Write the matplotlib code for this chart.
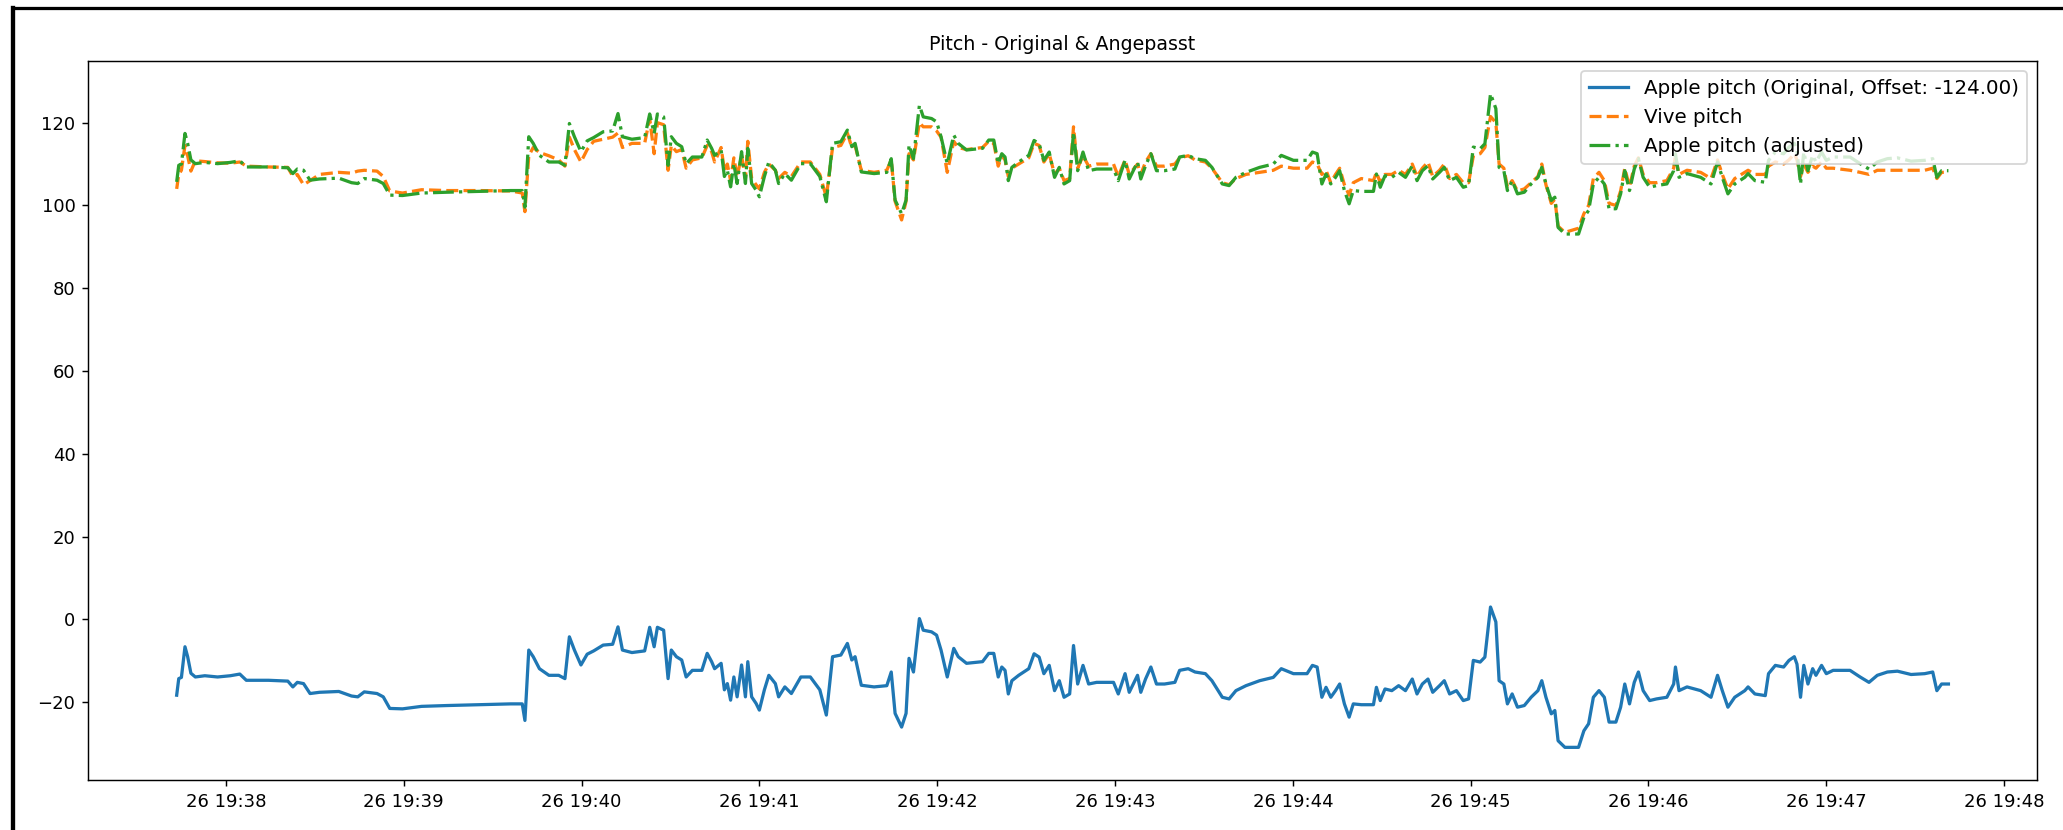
import numpy as np
import pandas as pd
import matplotlib
matplotlib.use("Agg")
import matplotlib.pyplot as plt
import matplotlib.dates as mdates
from matplotlib.lines import Line2D

# Zeitstempel in Sekunden nach 19:37:00
apple_t = [
    43.4, 44.1, 45.0, 46.2, 47.1, 48.2, 49.7, 52.9, 57.2, 61.5, 64.7, 66.9, 74.4, 80.9, 82.6, 84.1,
    86.2, 88.4, 91.6, 98.1, 102.4, 104.5, 106.7, 111.0, 113.1, 115.3, 119.6, 126.0, 134.6, 145.4,
    156.1, 160.0, 160.9, 162.2, 163.7, 165.8, 169.0, 172.3, 174.4, 175.9, 177.6, 179.8, 181.9,
    184.1, 187.3, 190.5, 192.3, 193.8, 197.0, 201.3, 203.0, 204.5, 205.6, 207.7, 209.2, 210.3,
    212.0, 213.8, 215.3, 217.4, 220.6, 222.4, 223.9, 224.9, 227.1, 228.2, 229.2, 230.3, 231.4,
    232.5, 234.0, 235.3, 236.1, 237.4, 238.9, 240.0, 241.7, 243.2, 245.4, 246.5, 248.6, 250.8,
    254.0, 257.2, 260.4, 262.6, 264.7, 267.5, 269.7, 271.2, 272.3, 274.4, 278.7, 283.0, 284.5,
    285.8, 288.0, 289.5, 290.5, 292.0, 294.0, 295.3, 298.1, 299.8, 301.3, 303.4, 305.6, 307.1,
    309.9, 315.3, 317.4, 319.1, 320.6, 321.8, 322.9, 324.0, 325.2, 327.5, 330.9, 332.7, 334.4,
    336.0, 337.8, 339.6, 341.2, 342.8, 344.7, 346.0, 347.4, 349.2, 351.1, 353.8, 359.5, 361.1,
    363.4, 364.8, 367.6, 368.7, 370.3, 372.1, 374.0, 376.7, 380.2, 381.8, 384.7, 387.0, 390.5,
    392.7, 396.2, 398.5, 400.8, 404.2, 408.8, 413.4, 416.1, 420.2, 424.8, 426.6, 428.2, 429.8,
    431.2, 432.8, 434.4, 435.8, 437.4, 439.0, 440.4, 443.1, 447.2, 448.2, 449.5, 451.1, 453.4,
    455.7, 458.0, 460.3, 461.9, 463.7, 465.6, 467.2, 469.5, 471.1, 472.9, 475.2, 477.5, 479.3,
    480.9, 483.2, 484.8, 486.7, 488.5, 489.6, 491.2, 492.4, 494.0, 495.8, 498.1, 500.4, 502.7,
    504.0, 505.4, 507.2, 508.4, 509.5, 511.8, 516.4, 518.2, 519.8, 521.4, 523.3, 525.1, 526.7,
    529.0, 530.6, 532.0, 533.6, 535.2, 536.6, 538.2, 540.4, 542.7, 546.2, 548.5, 549.1, 550.3,
    553.0, 557.6, 561.1, 563.3, 564.9, 566.8, 569.1, 572.5, 573.6, 575.9, 579.4, 580.5, 582.8,
    585.6, 587.4, 589.2, 590.1, 591.3, 592.4, 593.8, 595.4, 596.5, 598.4, 600.0, 602.3, 608.0,
    611.4, 614.4, 617.2, 620.6, 624.0, 628.6, 633.2, 635.9, 637.3, 638.9, 641.2,
]

apple_pitch = [
    -18.3, -14.3, -14.0, -6.6, -9.0, -13.0, -13.9, -13.6, -13.9, -13.6, -13.2, -14.7, -14.7, -14.9, -16.3, -15.2,
    -15.5, -17.9, -17.6, -17.4, -18.5, -18.7, -17.5, -17.9, -18.7, -21.5, -21.6, -21.0, -20.8, -20.6,
    -20.4, -20.4, -24.4, -7.4, -9.0, -11.9, -13.5, -13.5, -14.3, -4.2, -7.4, -11.0, -8.4,
    -7.6, -6.2, -6.0, -1.8, -7.4, -8.0, -7.6, -1.9, -6.6, -1.9, -2.6, -14.3, -7.4,
    -9.0, -9.8, -13.9, -12.3, -12.3, -8.2, -10.2, -11.9, -10.6, -17.0, -15.5, -19.5, -13.9,
    -18.7, -11.0, -18.7, -10.2, -18.7, -20.3, -21.9, -17.0, -13.5, -15.5, -18.7, -16.3, -17.9,
    -13.9, -13.9, -17.0, -23.1, -9.0, -8.6, -5.8, -9.8, -9.0, -15.9, -16.3, -16.0, -12.7,
    -22.7, -26.0, -22.7, -9.4, -12.7, 0.2, -2.6, -3.0, -3.8, -7.4, -13.9, -7.0, -9.0,
    -10.6, -10.2, -8.2, -8.2, -13.9, -11.5, -12.3, -18.0, -14.8, -13.5, -11.9, -8.3, -9.1,
    -13.1, -11.1, -17.2, -14.8, -18.8, -18.0, -6.3, -15.6, -11.1, -15.6, -15.2, -15.2, -18.0,
    -13.1, -17.6, -13.5, -17.6, -14.4, -11.5, -15.6, -15.6, -15.2, -12.3, -11.9, -12.7, -13.1,
    -14.8, -18.8, -19.2, -17.2, -16.0, -14.8, -14.0, -11.9, -13.1, -13.1, -11.1, -11.5, -18.8,
    -16.4, -18.8, -17.2, -15.6, -20.4, -23.6, -20.4, -20.6, -20.6, -16.4, -19.6, -16.8, -17.2,
    -16.0, -17.2, -14.4, -18.0, -15.6, -14.4, -17.6, -16.0, -14.8, -18.0, -17.2, -19.6, -19.2,
    -9.9, -10.3, -9.1, 3.0, -0.6, -14.8, -15.6, -20.4, -18.0, -21.2, -20.8, -18.8, -17.2,
    -14.8, -18.8, -22.8, -22.0, -29.3, -30.9, -30.9, -26.9, -25.2, -18.8, -17.2, -18.8, -24.8,
    -24.8, -21.2, -15.6, -20.4, -15.2, -12.7, -17.2, -19.6, -19.2, -18.8, -15.6, -11.5, -17.2,
    -16.3, -17.2, -18.8, -13.5, -17.2, -21.2, -18.8, -17.2, -16.3, -18.0, -18.4, -13.1, -11.1,
    -11.5, -9.9, -9.0, -10.8, -18.8, -11.1, -15.6, -11.9, -13.5, -11.1, -13.1, -12.3, -12.3,
    -13.9, -15.2, -13.5, -12.7, -12.5, -13.3, -13.1, -12.7, -17.2, -15.6, -15.6,
]

vive_pitch = [
    104.0, 107.5, 108.5, 114.5, 112.0, 108.3, 110.8, 110.6, 110.3, 110.2, 110.5, 109.5, 109.3, 109.2, 107.0, 107.5,
    105.0, 106.0, 107.5, 108.0, 107.8, 108.3, 108.5, 108.3, 107.0, 103.5, 103.0, 103.8, 103.6, 103.6,
    103.5, 103.0, 98.5, 112.0, 114.0, 112.8, 112.0, 111.0, 109.5, 116.5, 113.5, 110.5, 113.5,
    115.5, 116.0, 116.5, 117.5, 114.0, 115.0, 115.0, 121.0, 112.5, 120.0, 119.5, 108.5, 114.5,
    113.0, 113.5, 109.0, 111.0, 111.5, 114.5, 113.0, 110.5, 114.0, 108.5, 110.0, 106.0, 111.5,
    107.0, 112.0, 106.5, 115.5, 106.5, 105.0, 104.0, 108.0, 110.0, 108.5, 106.5, 108.0, 107.0,
    110.5, 110.5, 107.5, 102.0, 114.0, 114.5, 117.5, 114.0, 114.5, 108.5, 108.0, 108.5, 111.0,
    101.0, 96.5, 101.0, 112.5, 111.0, 120.0, 119.0, 119.0, 118.0, 116.5, 108.0, 115.5, 114.0,
    113.5, 114.0, 115.5, 115.0, 109.5, 112.0, 111.0, 107.0, 109.0, 110.0, 111.5, 115.0, 114.5,
    110.5, 112.5, 107.5, 109.0, 106.0, 106.5, 119.0, 109.0, 112.0, 109.5, 110.0, 110.0, 107.0,
    111.0, 107.5, 110.0, 107.5, 110.5, 112.5, 109.5, 109.5, 110.0, 111.5, 112.0, 111.0, 110.5,
    109.0, 105.5, 105.0, 106.5, 107.5, 108.0, 108.5, 109.5, 109.0, 109.0, 110.5, 110.0, 107.5,
    108.5, 105.5, 107.5, 109.0, 105.0, 102.5, 105.5, 106.5, 106.0, 108.0, 105.5, 107.5, 107.5,
    108.5, 107.5, 110.0, 107.0, 109.0, 110.5, 107.0, 108.5, 110.0, 106.5, 107.5, 105.5, 105.5,
    112.0, 112.5, 114.0, 121.5, 120.0, 110.0, 109.0, 104.5, 106.0, 103.5, 104.0, 105.5, 107.0,
    110.0, 105.0, 100.5, 101.5, 95.0, 93.5, 94.5, 98.0, 100.0, 106.5, 108.0, 106.0, 100.5,
    100.0, 103.5, 109.0, 104.5, 109.5, 111.5, 107.5, 105.5, 105.5, 106.0, 109.0, 112.0, 107.5,
    108.5, 108.0, 106.5, 111.0, 107.5, 104.0, 106.5, 108.0, 108.5, 107.5, 107.5, 109.5, 110.5,
    110.0, 111.0, 112.5, 111.0, 107.0, 110.0, 108.0, 109.5, 109.0, 110.5, 109.0, 109.0, 108.5,
    108.0, 107.5, 108.5, 108.5, 108.5, 108.5, 108.5, 109.0, 106.5, 108.0, 108.0,
]

offset = -124.0
start = pd.Timestamp("2024-03-26 19:37:00")


def main():
    times = start + pd.to_timedelta(apple_t, unit="s")
    apple = np.array(apple_pitch)
    apple_adj = apple - offset

    fig = plt.figure(figsize=(2063 / 130, 830 / 130), dpi=130)
    ax = fig.add_axes([0.0427, 0.0602, 0.9447, 0.8663])

    ax.plot(times, apple, lw=1.8, label=f"Apple pitch (Original, Offset: {offset:.2f})")
    ax.plot(times, vive_pitch, "--", lw=1.8, label="Vive pitch")
    ax.plot(times, apple_adj, "-.", lw=1.8, label="Apple pitch (adjusted)")

    ax.set_title("Pitch - Original & Angepasst", fontsize=10.5)
    ax.xaxis.set_major_locator(mdates.MinuteLocator())
    ax.xaxis.set_major_formatter(mdates.DateFormatter("%d %H:%M"))
    ax.legend(loc="upper right", fontsize=11)

    # schwarzer Rahmen vom Screenshot (links und oben)
    lx = 12.5 / 2063
    ty = 1 - 7.5 / 830
    fig.add_artist(Line2D([lx, lx], [0, ty], transform=fig.transFigure,
                          color="black", lw=2.4, solid_capstyle="projecting"))
    fig.add_artist(Line2D([lx, 1], [ty, ty], transform=fig.transFigure,
                          color="black", lw=1.8, solid_capstyle="projecting"))

    fig.savefig("out.png", dpi=130)


if __name__ == "__main__":
    main()
